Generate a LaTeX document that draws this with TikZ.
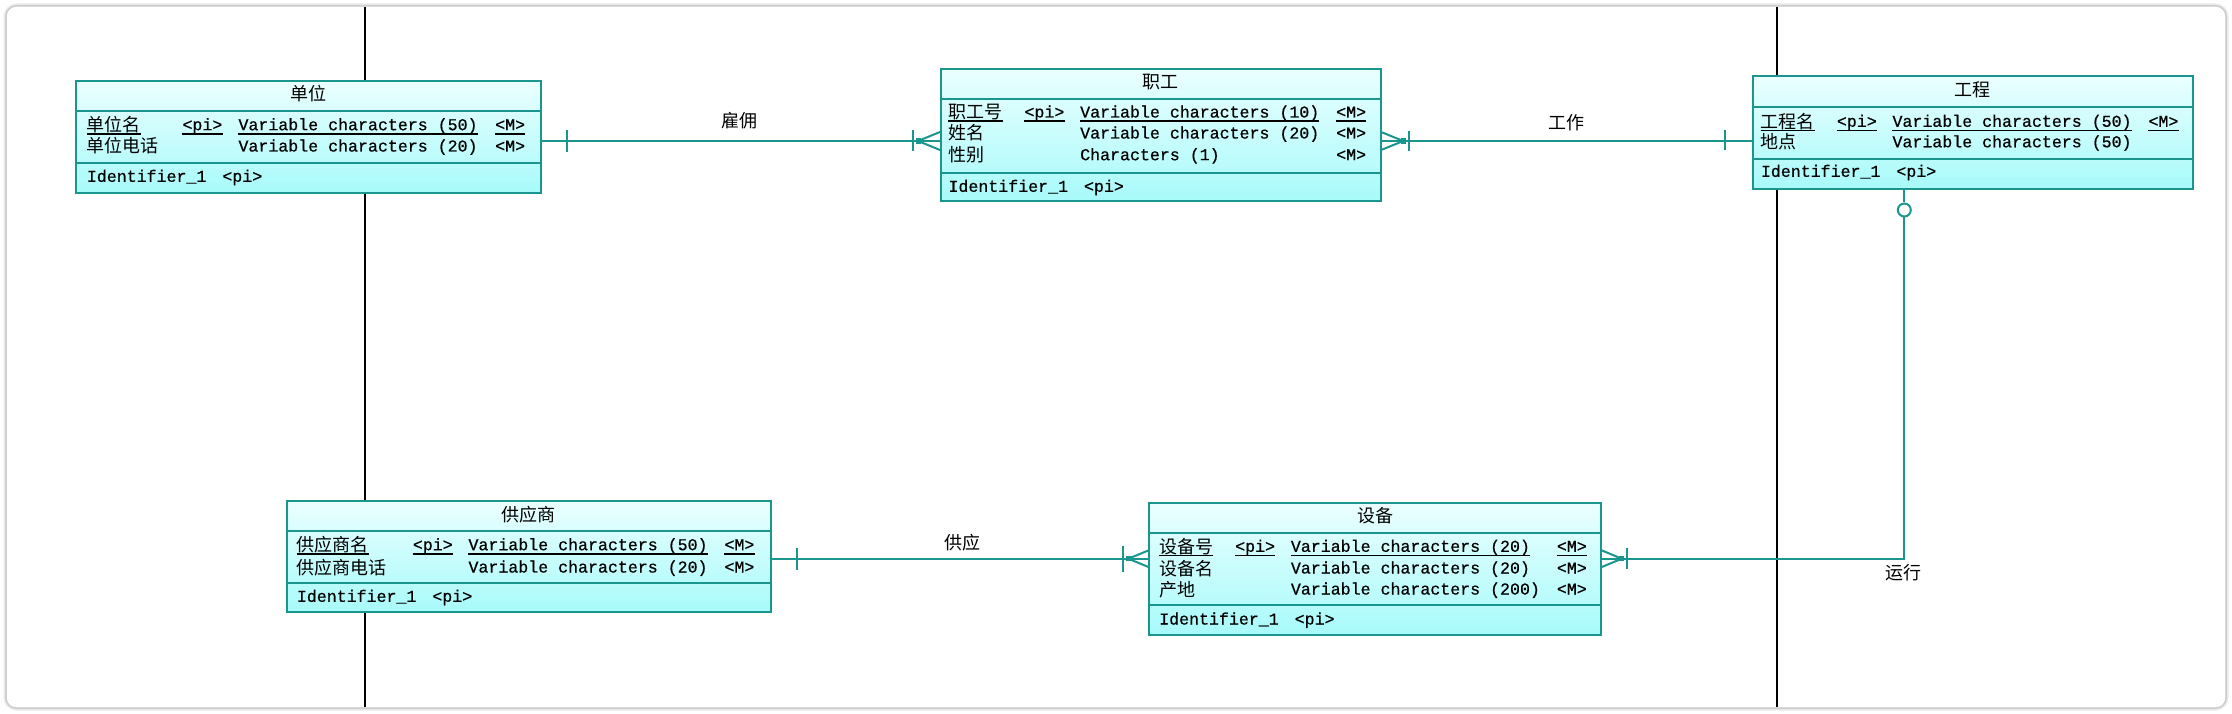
\documentclass[tikz,border=0pt]{standalone}
\usepackage{fontspec}
\setmonofont[FakeBold=0.6]{Liberation Mono}
\newfontfamily\cjk{Noto Sans CJK SC}
\usetikzlibrary{calc}
\definecolor{teal1}{HTML}{1A968E}
\definecolor{cyanA}{HTML}{EBFFFF}
\definecolor{cyanB}{HTML}{A8FAFA}
\begin{document}
\begin{tikzpicture}[x=1pt,y=-1pt,
  entity/.style={draw=teal1, line width=2pt, top color=cyanA, bottom color=cyanB, inner sep=0pt, outer sep=0pt, anchor=north west},
  ct/.style={font=\cjk\fontsize{18}{20}\selectfont, inner sep=0pt, text height=13pt, text depth=3pt, anchor=west},
  ch/.style={ct, anchor=center},
  mt/.style={font=\ttfamily\fontsize{16.6}{20}\selectfont, inner sep=0pt, text height=11pt, text depth=4pt, anchor=west},
  rel/.style={draw=teal1, line width=2pt},
  sepline/.style={draw=teal1, line width=2pt},
  ul/.style={draw=black, line width=1.6pt},
  vline/.style={draw=black, line width=2.2pt},
  optc/.style={circle, draw=teal1, fill=white, line width=2pt, minimum size=13pt, inner sep=0pt}
]
\useasboundingbox (0,0) rectangle (2232,714);
\fill[white] (0,0) rectangle (2232,714);
% frame
\draw[gray!18, line width=5pt, rounded corners=11pt] (6,6) rectangle (2226,708);
\draw[gray!40, line width=1.5pt, rounded corners=10pt] (6,6) rectangle (2226,708);
\fill[white, rounded corners=9pt] (7,7) rectangle (2225,707);
% vertical black lines
\coordinate (v1t) at (365,7); \coordinate (v1b) at (365,707);
\coordinate (v2t) at (1777,7); \coordinate (v2b) at (1777,707);
\draw[vline] (v1t) -- (v1b);
\draw[vline] (v2t) -- (v2b);

% ===== entity boxes =====
\node[entity, minimum width=465pt, minimum height=112pt] (e1) at (76,80.7) {};
\node[entity, minimum width=440.3pt, minimum height=131.7pt] (e2) at (940.7,69) {};
\node[entity, minimum width=440.3pt, minimum height=112.7pt] (e3) at (1752.7,76) {};
\node[entity, minimum width=484pt, minimum height=111.3pt] (e4) at (286.7,501) {};
\node[entity, minimum width=452.3pt, minimum height=132pt] (e5) at (1149,502.7) {};

% separators
\draw[sepline] (e1.west |- 0,111) -- (e1.east |- 0,111);
\draw[sepline] (e1.west |- 0,163) -- (e1.east |- 0,163);
\draw[sepline] (e2.west |- 0,98.7) -- (e2.east |- 0,98.7);
\draw[sepline] (e2.west |- 0,172.7) -- (e2.east |- 0,172.7);
\draw[sepline] (e3.west |- 0,107) -- (e3.east |- 0,107);
\draw[sepline] (e3.west |- 0,159) -- (e3.east |- 0,159);
\draw[sepline] (e4.west |- 0,530.7) -- (e4.east |- 0,530.7);
\draw[sepline] (e4.west |- 0,583) -- (e4.east |- 0,583);
\draw[sepline] (e5.west |- 0,532.7) -- (e5.east |- 0,532.7);
\draw[sepline] (e5.west |- 0,605) -- (e5.east |- 0,605);

% ===== 单位 =====
\node[ch] (h1) at (308.5,95.8) {单位};
\node[ct] (e1a1) at (86.7,126.7) {单位名};
\node[mt] (e1p1) at (182.3,126.7) {<pi>};
\node[mt] (e1t1) at (238.3,126.7) {Variable characters (50)};
\node[mt] (e1m1) at (495,126.7) {<M>};
\foreach \n in {e1a1,e1p1,e1t1,e1m1} \draw[ul] (\n.west |- 0,134) -- (\n.east |- 0,134);
\node[ct] (e1a2) at (86.7,148) {单位电话};
\node[mt] (e1t2) at (238.3,148) {Variable characters (20)};
\node[mt] (e1m2) at (495,148) {<M>};
\node[mt] (e1id) at (86.7,178.3) {Identifier\_1\hspace{16pt}<pi>};

% ===== 职工 =====
\node[ch] (h2) at (1160.9,84) {职工};
\node[ct] (e2a1) at (948.3,114) {职工号};
\node[mt] (e2p1) at (1024.3,114) {<pi>};
\node[mt] (e2t1) at (1080,114) {Variable characters (10)};
\node[mt] (e2m1) at (1336,114) {<M>};
\foreach \n in {e2a1,e2p1,e2t1,e2m1} \draw[ul] (\n.west |- 0,121.3) -- (\n.east |- 0,121.3);
\node[ct] (e2a2) at (948.3,135) {姓名};
\node[mt] (e2t2) at (1080,135) {Variable characters (20)};
\node[mt] (e2m2) at (1336,135) {<M>};
\node[ct] (e2a3) at (948.3,156.7) {性别};
\node[mt] (e2t3) at (1080,156.7) {Characters (1)};
\node[mt] (e2m3) at (1336,156.7) {<M>};
\node[mt] (e2id) at (948.3,188.3) {Identifier\_1\hspace{16pt}<pi>};

% ===== 工程 =====
\node[ch] (h3) at (1972.9,91.5) {工程};
\node[ct] (e3a1) at (1760.7,123.3) {工程名};
\node[mt] (e3p1) at (1836.7,123.3) {<pi>};
\node[mt] (e3t1) at (1892.3,123.3) {Variable characters (50)};
\node[mt] (e3m1) at (2148.3,123.3) {<M>};
\foreach \n in {e3a1,e3p1,e3t1,e3m1} \draw[ul] (\n.west |- 0,130.6) -- (\n.east |- 0,130.6);
\node[ct] (e3a2) at (1760.7,143.8) {地点};
\node[mt] (e3t2) at (1892.3,143.8) {Variable characters (50)};
\node[mt] (e3id) at (1760.7,173.3) {Identifier\_1\hspace{16pt}<pi>};

% ===== 供应商 =====
\node[ch] (h4) at (528.7,516) {供应商};
\node[ct] (e4a1) at (296.7,546.7) {供应商名};
\node[mt] (e4p1) at (412.7,546.7) {<pi>};
\node[mt] (e4t1) at (468.3,546.7) {Variable characters (50)};
\node[mt] (e4m1) at (724.3,546.7) {<M>};
\foreach \n in {e4a1,e4p1,e4t1,e4m1} \draw[ul] (\n.west |- 0,554) -- (\n.east |- 0,554);
\node[ct] (e4a2) at (296.7,569) {供应商电话};
\node[mt] (e4t2) at (468.3,569) {Variable characters (20)};
\node[mt] (e4m2) at (724.3,569) {<M>};
\node[mt] (e4id) at (296.7,598.3) {Identifier\_1\hspace{16pt}<pi>};

% ===== 设备 =====
\node[ch] (h5) at (1375.2,517.7) {设备};
\node[ct] (e5a1) at (1159,548.3) {设备号};
\node[mt] (e5p1) at (1235,548.3) {<pi>};
\node[mt] (e5t1) at (1290.7,548.3) {Variable characters (20)};
\node[mt] (e5m1) at (1556.7,548.3) {<M>};
\foreach \n in {e5a1,e5p1,e5t1,e5m1} \draw[ul] (\n.west |- 0,555.6) -- (\n.east |- 0,555.6);
\node[ct] (e5a2) at (1159,570) {设备名};
\node[mt] (e5t2) at (1290.7,570) {Variable characters (20)};
\node[mt] (e5m2) at (1556.7,570) {<M>};
\node[ct] (e5a3) at (1159,591) {产地};
\node[mt] (e5t3) at (1290.7,591) {Variable characters (200)};
\node[mt] (e5m3) at (1556.7,591) {<M>};
\node[mt] (e5id) at (1159,621) {Identifier\_1\hspace{16pt}<pi>};

% ===== relationships =====
% 雇佣: 单位 -- 职工
\coordinate (r1a) at (e1.east |- 0,141);
\coordinate (r1b) at (e2.west |- 0,141);
\draw[rel] (r1a) -- (r1b);
\draw[rel] ([xshift=25.7pt,yshift=11pt]r1a) -- ([xshift=25.7pt,yshift=-11pt]r1a);
\draw[rel] ([xshift=-28pt,yshift=11pt]r1b) -- ([xshift=-28pt,yshift=-10pt]r1b);
\draw[rel] ([yshift=9.3pt]r1b) -- ([xshift=-22.7pt]r1b) -- ([yshift=-9.3pt]r1b);
\fill[teal1] ([xshift=-25pt,yshift=-2.7pt]r1b) rectangle ([xshift=-19.5pt,yshift=2.7pt]r1b);
\node[ch] (l1) at (739,122.7) {雇佣};

% 工作: 职工 -- 工程
\coordinate (r2a) at (e2.east |- 0,141);
\coordinate (r2b) at (e3.west |- 0,141);
\draw[rel] (r2a) -- (r2b);
\draw[rel] ([yshift=9pt]r2a) -- ([xshift=22.3pt]r2a) -- ([yshift=-9pt]r2a);
\fill[teal1] ([xshift=19.5pt,yshift=-2.7pt]r2a) rectangle ([xshift=25pt,yshift=2.7pt]r2a);
\draw[rel] ([xshift=28pt,yshift=10pt]r2a) -- ([xshift=28pt,yshift=-10.5pt]r2a);
\draw[rel] ([xshift=-27.7pt,yshift=11pt]r2b) -- ([xshift=-27.7pt,yshift=-9pt]r2b);
\node[ch] (l2) at (1566,125) {工作};

% 供应: 供应商 -- 设备
\coordinate (r3a) at (e4.east |- 0,558.7);
\coordinate (r3b) at (e5.west |- 0,558.7);
\draw[rel] (r3a) -- (r3b);
\draw[rel] ([xshift=26pt,yshift=11pt]r3a) -- ([xshift=26pt,yshift=-11pt]r3a);
\draw[rel] ([xshift=-26.3pt,yshift=13pt]r3b) -- ([xshift=-26.3pt,yshift=-13pt]r3b);
\draw[rel] ([yshift=8.5pt]r3b) -- ([xshift=-20.7pt]r3b) -- ([yshift=-8.5pt]r3b);
\fill[teal1] ([xshift=-23pt,yshift=-2.7pt]r3b) rectangle ([xshift=-17.5pt,yshift=2.7pt]r3b);
\node[ch] (l3) at (962,544) {供应};

% 运行: 设备 -- 工程
\node[optc] (opt) at (1904.3,210) {};
\coordinate (r4a) at (e5.east |- 0,558.7);
\coordinate (r4k) at (opt |- 0,558.7);
\draw[rel] (opt |- e3.south) -- (opt.north);
\draw[rel] (opt.south) -- (r4k) -- (r4a);
\draw[rel] ([yshift=8.5pt]r4a) -- ([xshift=20.4pt]r4a) -- ([yshift=-8.5pt]r4a);
\fill[teal1] ([xshift=17.5pt,yshift=-2.7pt]r4a) rectangle ([xshift=23pt,yshift=2.7pt]r4a);
\draw[rel] ([xshift=25.4pt,yshift=10.5pt]r4a) -- ([xshift=25.4pt,yshift=-10.5pt]r4a);
\node[ch] (l4) at (1903.3,574) {运行};
\end{tikzpicture}
\end{document}
